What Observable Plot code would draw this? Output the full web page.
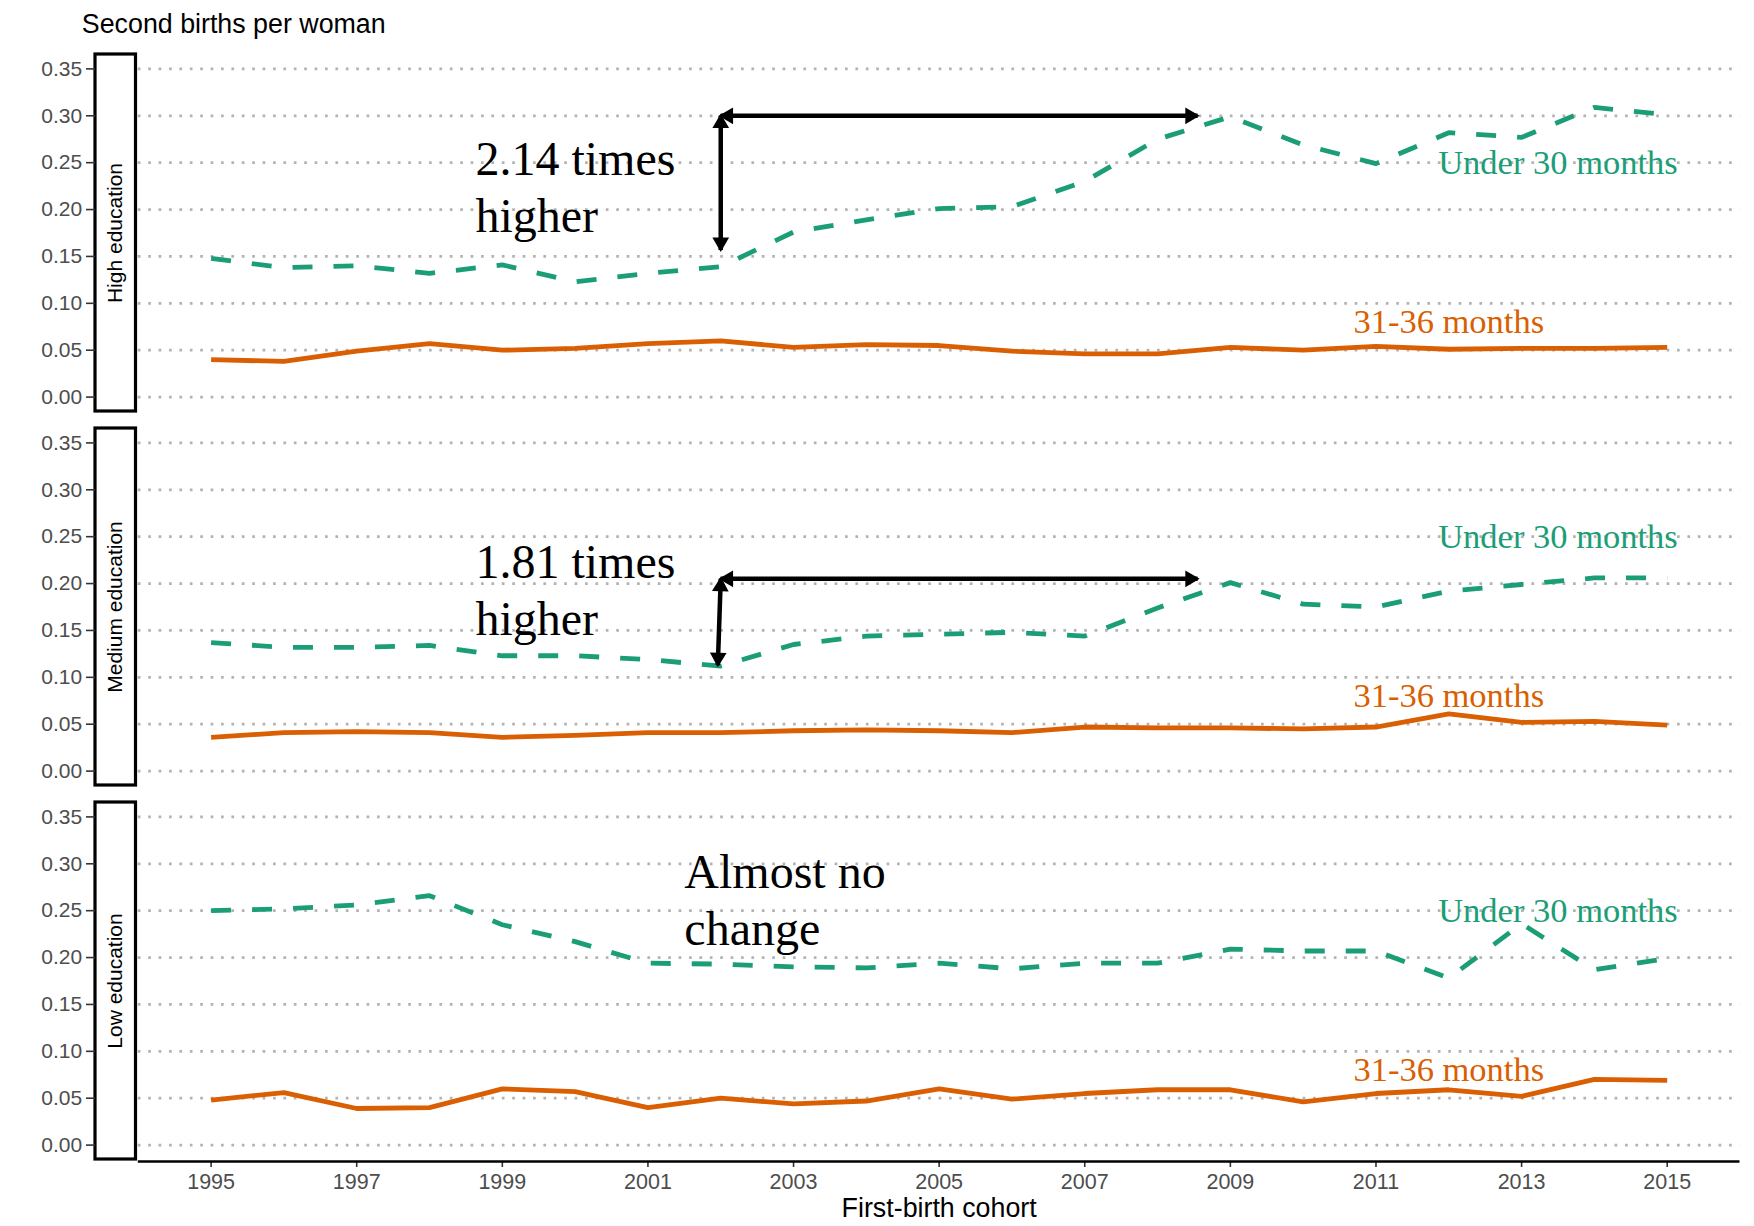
<!DOCTYPE html>
<html>
<head>
<meta charset="utf-8">
<script src="https://cdn.jsdelivr.net/npm/d3@7"></script>
<script src="https://cdn.jsdelivr.net/npm/@observablehq/plot@0.6"></script>
<style>
  html, body { margin: 0; padding: 0; background: #ffffff; }
  #chart { width: 1754px; height: 1226px; }
</style>
</head>
<body>
<div id="chart"></div>
<script>
// ---------- data ----------
const years = [1995, 1996, 1997, 1998, 1999, 2000, 2001, 2002, 2003, 2004, 2005,
               2006, 2007, 2008, 2009, 2010, 2011, 2012, 2013, 2014, 2015];
const panels = ["High education", "Medium education", "Low education"];
const seriesNames = ["Under 30 months", "31-36 months"];

const highUnder30   = [0.148, 0.138, 0.140, 0.132, 0.141, 0.123, 0.132, 0.139, 0.176, 0.189, 0.201, 0.203, 0.230, 0.275, 0.299, 0.269, 0.249, 0.282, 0.277, 0.309, 0.301];
const high31to36    = [0.040, 0.038, 0.049, 0.057, 0.050, 0.052, 0.057, 0.060, 0.053, 0.056, 0.055, 0.049, 0.046, 0.046, 0.053, 0.050, 0.054, 0.051, 0.052, 0.052, 0.053];
const mediumUnder30 = [0.137, 0.132, 0.132, 0.134, 0.123, 0.123, 0.119, 0.112, 0.135, 0.144, 0.146, 0.148, 0.144, 0.174, 0.201, 0.178, 0.175, 0.192, 0.199, 0.206, 0.206];
const medium31to36  = [0.036, 0.041, 0.042, 0.041, 0.036, 0.038, 0.041, 0.041, 0.043, 0.044, 0.043, 0.041, 0.047, 0.046, 0.046, 0.045, 0.047, 0.061, 0.052, 0.053, 0.049];
const lowUnder30    = [0.250, 0.252, 0.256, 0.266, 0.235, 0.217, 0.194, 0.193, 0.190, 0.189, 0.194, 0.188, 0.194, 0.194, 0.209, 0.207, 0.207, 0.178, 0.236, 0.187, 0.199];
const low31to36     = [0.048, 0.056, 0.039, 0.040, 0.060, 0.057, 0.040, 0.050, 0.044, 0.047, 0.060, 0.049, 0.055, 0.059, 0.059, 0.046, 0.055, 0.059, 0.052, 0.070, 0.069];

const yTicks = [0, 0.05, 0.10, 0.15, 0.20, 0.25, 0.30, 0.35];
const xTicks = [1995, 1997, 1999, 2001, 2003, 2005, 2007, 2009, 2011, 2013, 2015];
const yTitle = "Second births per woman";
const xTitle = "First-birth cohort";

// annotation arrows (double-headed)
const arrowPanel = ["High education", "High education", "Medium education", "Medium education"];
const arrowX1 = [2002, 2002, 2002, 2002];
const arrowY1 = [0.300, 0.300, 0.205, 0.205];
const arrowX2 = [2002, 2008.55, 2001.96, 2008.55];
const arrowY2 = [0.157, 0.300, 0.113, 0.205];

// annotation notes (y = baseline of last line)
const notePanel = ["High education", "Medium education", "Low education"];
const noteText = ["2.14 times\nhigher", "1.81 times\nhigher", "Almost no\nchange"];
const noteX = [1998.63, 1998.63, 2001.5];
const noteY = [0.176, 0.145, 0.213];

// direct series labels
const labelX = [2013.5, 2012];
const labelY = [0.25, 0.08];

// ---------- build tables ----------
const seriesValues = {
  "High education": [highUnder30, high31to36],
  "Medium education": [mediumUnder30, medium31to36],
  "Low education": [lowUnder30, low31to36]
};
const rows = [];
for (const p of panels) {
  seriesValues[p].forEach((vals, si) => {
    vals.forEach((v, i) => rows.push({panel: p, series: seriesNames[si], year: years[i], value: v}));
  });
}
const arrows = arrowPanel.map((p, i) => ({panel: p, x1: arrowX1[i], y1: arrowY1[i], x2: arrowX2[i], y2: arrowY2[i]}));
const notes = notePanel.map((p, i) => ({panel: p, text: noteText[i], x: noteX[i], y: noteY[i]}));
const seriesLabels = [];
for (const p of panels) seriesNames.forEach((s, i) => seriesLabels.push({panel: p, series: s, x: labelX[i], y: labelY[i]}));

const green = "#1B9E77";
const orange = "#D95F02";
const colorOf = s => s === seriesNames[0] ? green : orange;

const xDomain = [1994, 2016];
const yDomain = [-0.0175, 0.3675];

function arrowHead(color) {
  const m = d3.create("svg:marker")
    .attr("viewBox", "-13 -8.35 16 16.7")
    .attr("markerUnits", "userSpaceOnUse")
    .attr("markerWidth", 16)
    .attr("markerHeight", 16.7)
    .attr("refX", 0)
    .attr("refY", 0)
    .attr("orient", "auto-start-reverse")
    .attr("overflow", "visible")
    .attr("fill", color)
    .attr("stroke", "none");
  m.append("path").attr("d", "M-12.3,-8.35L2,0L-12.3,8.35Z");
  return m.node();
}

const chart = Plot.plot({
  width: 1754,
  height: 1226,
  marginLeft: 137.8,
  marginRight: 14.5,
  marginTop: 50.3,
  marginBottom: 64.6,
  style: {fontFamily: "'Liberation Sans', Arial, sans-serif", background: "#ffffff", color: "#000000"},
  x: {domain: xDomain},
  y: {domain: yDomain},
  fy: {domain: panels, paddingInner: 0.036, paddingOuter: 0, axis: null},
  marks: [
    Plot.gridY(yTicks, {stroke: "#b3b3b3", strokeOpacity: 1, strokeWidth: 2.7, strokeDasharray: "2.7,7.7"}),
    // strip boxes
    Plot.rect(panels, {fy: d => d, x1: () => xDomain[0], x2: () => xDomain[0],
      insetLeft: -42.8, insetRight: 2.3, insetTop: 2, insetBottom: 2,
      fill: "white", stroke: "black", strokeWidth: 3.2}),
    Plot.text(panels, {fy: d => d, x: () => xDomain[0], frameAnchor: "middle", text: d => d,
      rotate: -90, dx: -22.6, fontSize: 21, fill: "black"}),
    // axes
    Plot.axisY(yTicks, {tickFormat: d3.format(".2f"), dx: -42.8, tickSize: 9, tickPadding: 4.3,
      fontSize: 21, fill: "#4d4d4d", stroke: "#333333", strokeWidth: 1.6, label: null}),
    Plot.axisX(xTicks, {tickFormat: d => String(d), tickSize: 6, tickPadding: 6,
      fontSize: 21.5, fill: "#4d4d4d", stroke: "#333333", strokeWidth: 1.6, label: null}),
    Plot.ruleY([panels[2]], {fy: d => d, y: () => yDomain[0], stroke: "black", strokeWidth: 2.6}),
    // data lines
    Plot.line(rows.filter(d => d.series === seriesNames[1]), {
      x: "year", y: "value", fy: "panel", stroke: orange, strokeWidth: 4.8,
      strokeLinejoin: "round", strokeLinecap: "butt"}),
    Plot.line(rows.filter(d => d.series === seriesNames[0]), {
      x: "year", y: "value", fy: "panel", stroke: green, strokeWidth: 4.8,
      strokeDasharray: "20,21", strokeLinejoin: "round", strokeLinecap: "butt"}),
    // arrows
    Plot.link(arrows, {x1: "x1", y1: "y1", x2: "x2", y2: "y2", fy: "panel",
      stroke: "black", strokeWidth: 4.5, markerStart: arrowHead, markerEnd: arrowHead}),
    // notes
    Plot.text(notes, {x: "x", y: "y", fy: "panel", text: "text", textAnchor: "start",
      lineAnchor: "bottom", lineHeight: 1.19, fontSize: 48, fill: "black",
      fontFamily: "'Liberation Serif', 'Times New Roman', serif"}),
    // series labels
    Plot.text(seriesLabels, {x: "x", y: "y", fy: "panel", text: "series", textAnchor: "middle",
      lineAnchor: "middle", fontSize: 34.5, fill: d => colorOf(d.series),
      fontFamily: "'Liberation Serif', 'Times New Roman', serif"}),
    // titles
    Plot.text([panels[0]], {fy: d => d, frameAnchor: "top-left", text: () => yTitle,
      dx: -56.5, dy: -19.6, textAnchor: "start", lineAnchor: "bottom", fontSize: 26.8, fill: "black"}),
    Plot.text([panels[2]], {fy: d => d, frameAnchor: "bottom", text: () => xTitle,
      dy: 55.6, lineAnchor: "bottom", fontSize: 26.8, fill: "black"})
  ]
});
document.getElementById("chart").appendChild(chart);
</script>
</body>
</html>
